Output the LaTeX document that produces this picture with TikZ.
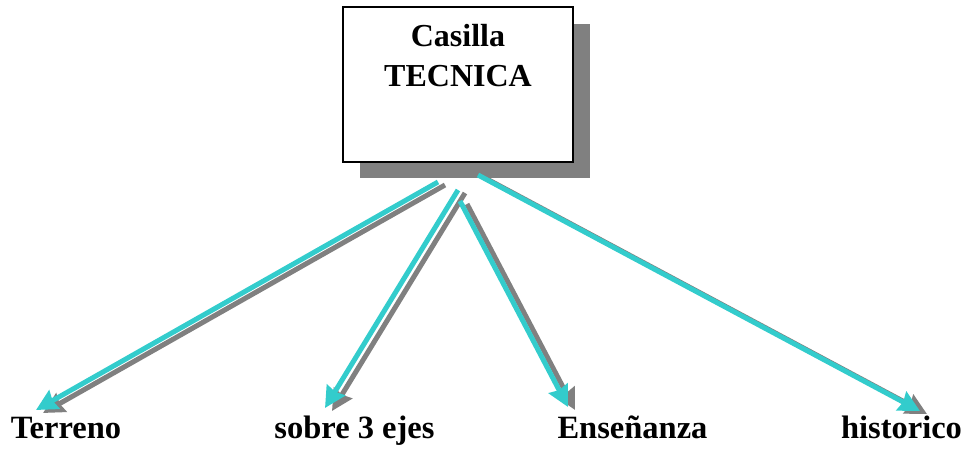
\documentclass[tikz,border=0pt]{standalone}
\usepackage{fontspec}
\setmainfont{Liberation Serif}
\usetikzlibrary{arrows.meta}
\definecolor{cyanarrow}{HTML}{33CCCC}
\definecolor{shadowgray}{HTML}{808080}
\tikzset{
  lbl/.style={font=\fontsize{32.5}{40}\selectfont\bfseries, inner sep=0pt, anchor=base},
  boxtext/.style={font=\fontsize{32}{40}\selectfont\bfseries, inner sep=0pt, anchor=base},
  arrowcyan/.style={draw=cyanarrow, line width=5pt, -{Stealth[length=21pt,width=21pt,inset=2pt]}},
  arrowshadow/.style={draw=shadowgray, line width=5pt, -{Stealth[length=21pt,width=21pt,inset=2pt]}},
}
\begin{document}
\begin{tikzpicture}[x=1pt,y=-1pt]
\useasboundingbox (0,0) rectangle (967,449);
% box shadow and box
\fill[shadowgray] (360,24) rectangle (590,178);
\node[draw=black, line width=1.5pt, fill=white, minimum width=230pt, minimum height=155pt, inner sep=0pt] (box) at (458,84.5) {};
\node[boxtext] (t1) at (458,47) {Casilla};
\node[boxtext] (t2) at (458,87) {TECNICA};
% labels
\node[lbl] (terreno) at (66,438) {Terreno};
\node[lbl] (sobre) at (354.5,438) {sobre 3 ejes};
\node[lbl] (ens) at (632.5,438) {Enseñanza};
\node[lbl] (hist) at (901.5,438) {historico};
% arrow points
\coordinate (s1) at (438,182);
\coordinate (e1) at (36,410);
\coordinate (s2) at (458,190);
\coordinate (e2) at (325,408);
\coordinate (s3) at (460,201);
\coordinate (e3) at (568,407);
\coordinate (s4) at (478,175);
\coordinate (e4) at (920,411);
% shadows
\foreach \s/\e in {s1/e1,s2/e2,s3/e3,s4/e4}{
  \draw[arrowshadow] ([shift={(7,3)}]\s) -- ([shift={(7,3)}]\e);
}
\foreach \s/\e in {s1/e1,s2/e2,s3/e3,s4/e4}{
  \draw[arrowcyan] (\s) -- (\e);
}
\end{tikzpicture}
\end{document}
